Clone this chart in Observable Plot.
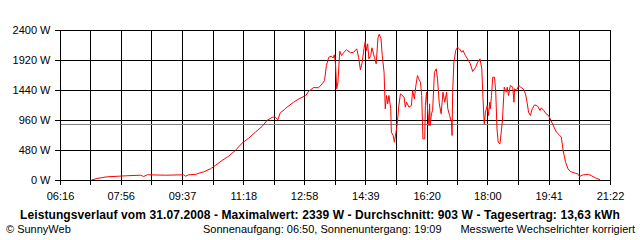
<!DOCTYPE html>
<html>
<head>
<meta charset="utf-8">
<script src="https://cdn.jsdelivr.net/npm/d3@7"></script>
<script src="https://cdn.jsdelivr.net/npm/@observablehq/plot@0.6"></script>
<style>
  html, body { margin: 0; padding: 0; background: #fff; }
  #wrap { position: relative; width: 640px; height: 240px; overflow: hidden; font-family: "Liberation Sans", Arial, sans-serif; color: #000; }
  #chart svg { display: block; }
  .t { position: absolute; font-size: 11px; line-height: 13px; white-space: nowrap; }
</style>
</head>
<body>
<div id="wrap">
  <div id="chart"></div>
  <div class="t" id="title" style="left:0; width:640px; text-align:center; top:209px; font-weight:bold; font-size:12px; letter-spacing:0.1px;"></div>
  <div class="t" style="left:6px; top:223px;">© SunnyWeb</div>
  <div class="t" style="left:203px; top:223px;">Sonnenaufgang: 06:50, Sonnenuntergang: 19:09</div>
  <div class="t" style="right:5px; top:223px;">Messwerte Wechselrichter korrigiert</div>
</div>
<script>
// ---- data ----
const times = ["07:08","07:16","07:25","07:33","07:52","08:03","08:28","08:33","08:39","09:09","09:39","09:42","09:47","09:58","10:04","10:12","10:23","10:31","10:42","10:53","11:04","11:15","11:26","11:37","11:48","11:56","12:05","12:10","12:14","12:18","12:25","12:29","12:40","12:49","13:00","13:05","13:13","13:21","13:27","13:31","13:34","13:38","13:42","13:45","13:47","13:49","13:51","13:53","13:56","13:59","14:02","14:07","14:14","14:19","14:24","14:27","14:30","14:33","14:36","14:38","14:40","14:42","14:44","14:47","14:49","14:53","14:56","14:59","15:01","15:04","15:06","15:09","15:11","15:13","15:15","15:17",
"15:20","15:21","15:24","15:26","15:30","15:32","15:33","15:36","15:39","15:42","15:44","15:46","15:50","15:54","15:56","15:59","16:01","16:04","16:06","16:09","16:11","16:13","16:16","16:17","16:19","16:21","16:23","16:24","16:25","16:27","16:29","16:32","16:35","16:37","16:40","16:43","16:46","16:49","16:52","16:54","16:57","17:00","17:01","17:02","17:04","17:07","17:10","17:13","17:17","17:19","17:23","17:28","17:31","17:35","17:40","17:43","17:47","17:50","17:52","17:54","17:56","17:59","18:01","18:03","18:04","18:06","18:08","18:11","18:13","18:15","18:17","18:20",
"18:24","18:26","18:27","18:30","18:32","18:34","18:37","18:41","18:43","18:44","18:47","18:51","18:54","18:58","19:02","19:05","19:07","19:10","19:13","19:17","19:22","19:26","19:28","19:32","19:36","19:40","19:44","19:49","19:53","19:57","20:01","20:04","20:08","20:12","20:16","20:22","20:28","20:31","20:37","20:46","20:50","20:57","21:04"];

const watts = [11,32,48,59,69,75,85,64,91,85,91,69,91,96,117,139,187,240,320,389,480,597,677,773,864,960,1013,1013,971,1083,1136,1173,1253,1307,1360,1429,1488,1483,1547,1600,1840,1973,1990,1960,2011,1867,1467,1573,2069,2000,2043,2091,2043,2053,2107,1973,1771,1893,2117,2224,2080,2187,1947,2000,2123,1973,1867,2283,2339,2267,2000,1733,1147,1360,1227,1360,
1147,773,720,613,853,1040,1173,1387,1360,1333,1173,1253,1173,1200,1440,1307,1493,1680,1627,1573,1360,667,667,1200,1413,1093,880,1227,880,1067,1120,1733,1787,1627,1227,1067,1413,1253,1413,1147,1040,933,720,1413,1893,2080,2133,2107,2053,2080,2000,1920,1867,1744,1813,1893,1947,1787,1307,907,1093,1200,1040,1253,1147,1360,1653,1653,1413,827,613,587,
960,1333,1493,1413,1493,1360,1520,1493,1253,1467,1440,1520,1493,1467,1387,1227,1093,1040,1147,1211,1189,1120,1163,1120,1067,1040,960,853,773,736,693,480,293,187,144,123,107,64,91,96,80,43,16];

const xTickLabels = ["06:16","07:56","09:37","11:18","12:58","14:39","16:20","18:00","19:41","21:22"];
const yTicks = [0, 480, 960, 1440, 1920, 2400];
const average = 903;
const maximum = 2339;
const dateLabel = "31.07.2008";
const yieldLabel = "13,63 kWh";

// ---- build ----
const toMin = s => { const [h, m] = s.split(":").map(Number); return h * 60 + m; };
const data = times.map((t, i) => ({t: toMin(t), w: watts[i]}));
const labelPos = xTickLabels.map(toMin);
const xGrid = [];
labelPos.forEach((p, i) => { xGrid.push(p); if (i < labelPos.length - 1) xGrid.push((p + labelPos[i + 1]) / 2); });
const labelFor = d => { const i = labelPos.indexOf(d); return i >= 0 ? xTickLabels[i] : ""; };

document.getElementById("title").textContent =
  `Leistungsverlauf vom ${dateLabel} - Maximalwert: ${maximum} W - Durchschnitt: ${average} W - Tagesertrag: ${yieldLabel}`;

const chart = Plot.plot({
  width: 640,
  height: 204,
  marginLeft: 60,
  marginRight: 30,
  marginTop: 30,
  marginBottom: 24,
  style: {fontFamily: "'Liberation Sans', Arial, sans-serif", fontSize: "11px", color: "black", background: "white"},
  x: {domain: [labelPos[0], labelPos[labelPos.length - 1]]},
  y: {domain: [yTicks[0], yTicks[yTicks.length - 1]]},
  marks: [
    Plot.gridY(yTicks, {stroke: "black", strokeOpacity: 1, shapeRendering: "crispEdges"}),
    Plot.gridX(xGrid, {stroke: "black", strokeOpacity: 1, shapeRendering: "crispEdges"}),
    Plot.axisY(yTicks, {tickSize: 5, tickPadding: 5, tickFormat: d => `${d} W`, label: null, stroke: "black", shapeRendering: "crispEdges"}),
    Plot.axisX(xGrid, {tickSize: 5, tickPadding: 7, tickFormat: labelFor, label: null, stroke: "black", shapeRendering: "crispEdges"}),
    Plot.ruleY([average], {stroke: "#808080", shapeRendering: "crispEdges"}),
    Plot.line(data, {x: "t", y: "w", stroke: "#ff0000", strokeWidth: 1}),
    Plot.frame({stroke: "black", shapeRendering: "crispEdges"})
  ]
});
document.getElementById("chart").appendChild(chart);
</script>
</body>
</html>
